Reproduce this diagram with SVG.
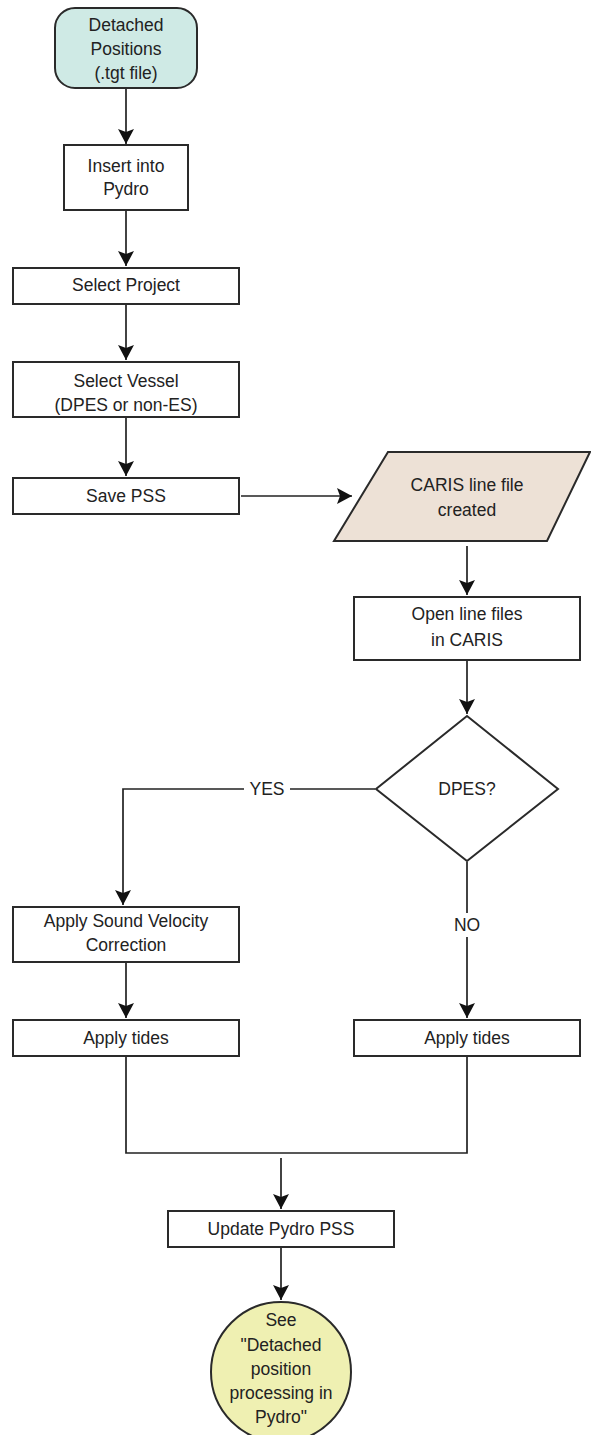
<svg xmlns="http://www.w3.org/2000/svg" width="591" height="1435" viewBox="0 0 591 1435">
<style>
.box{fill:#ffffff;stroke:#2a2a2a;stroke-width:2}
.start{fill:#cfeae5;stroke:#2a2a2a;stroke-width:2}
.io{fill:#ede1d6;stroke:#2a2a2a;stroke-width:2}
.end{fill:#eff0b2;stroke:#2a2a2a;stroke-width:2}
.t{font-family:"Liberation Sans",Arial,sans-serif;font-size:17.5px;fill:#222;text-anchor:middle;dominant-baseline:central}
.c{fill:none;stroke:#222;stroke-width:1.7}
</style>
<defs>
<marker id="ah" markerUnits="userSpaceOnUse" markerWidth="16" markerHeight="16" refX="15" refY="8" orient="auto">
<path d="M0,0 L15,8 L0,16 L3,8 Z" fill="#111"/>
</marker>
</defs>
<g id="connectors">
<line class="c" x1="126" y1="89" x2="126" y2="144" marker-end="url(#ah)"/>
<line class="c" x1="126" y1="211" x2="126" y2="266" marker-end="url(#ah)"/>
<line class="c" x1="126" y1="305" x2="126" y2="360" marker-end="url(#ah)"/>
<line class="c" x1="126" y1="418" x2="126" y2="476" marker-end="url(#ah)"/>
<line class="c" x1="241" y1="496" x2="352" y2="496" marker-end="url(#ah)"/>
<line class="c" x1="467" y1="546" x2="467" y2="595" marker-end="url(#ah)"/>
<line class="c" x1="467" y1="661" x2="467" y2="714" marker-end="url(#ah)"/>
<polyline class="c" points="375,789 290,789"/>
<polyline class="c" points="244,789 123,789 123,905" marker-end="url(#ah)"/>
<text class="t" x="267" y="789">YES</text>
<line class="c" x1="467" y1="862" x2="467" y2="913"/>
<line class="c" x1="467" y1="937" x2="467" y2="1018" marker-end="url(#ah)"/>
<text class="t" x="467" y="925">NO</text>
<line class="c" x1="126" y1="963" x2="126" y2="1018" marker-end="url(#ah)"/>
<polyline class="c" points="126,1057 126,1153 467,1153 467,1057"/>
<line class="c" x1="281" y1="1158" x2="281" y2="1209" marker-end="url(#ah)"/>
<line class="c" x1="281" y1="1248" x2="281" y2="1300" marker-end="url(#ah)"/>
</g>
<g id="n-start">
<rect class="start" x="55" y="8" width="142" height="80" rx="20" ry="20"/>
<text class="t" x="126" y="25">Detached</text>
<text class="t" x="126" y="49">Positions</text>
<text class="t" x="126" y="73">(.tgt file)</text>
</g>
<g id="n-insert">
<rect class="box" x="64" y="145" width="124" height="65"/>
<text class="t" x="126" y="166">Insert into</text>
<text class="t" x="126" y="189">Pydro</text>
</g>
<g id="n-project">
<rect class="box" x="13" y="268" width="226" height="36"/>
<text class="t" x="126" y="285">Select Project</text>
</g>
<g id="n-vessel">
<rect class="box" x="13" y="362" width="226" height="55"/>
<text class="t" x="126" y="381">Select Vessel</text>
<text class="t" x="126" y="405">(DPES or non-ES)</text>
</g>
<g id="n-savepss">
<rect class="box" x="13" y="478" width="226" height="36"/>
<text class="t" x="126" y="496">Save PSS</text>
</g>
<g id="n-caris">
<polygon class="io" points="388,452 590,452 547,541 334,541"/>
<text class="t" x="467" y="485">CARIS line file</text>
<text class="t" x="467" y="510">created</text>
</g>
<g id="n-open">
<rect class="box" x="354" y="597" width="226" height="63"/>
<text class="t" x="467" y="614">Open line files</text>
<text class="t" x="467" y="640">in CARIS</text>
</g>
<g id="n-dpes">
<polygon class="box" points="467,716 558,789 467,861 376,789"/>
<text class="t" x="467" y="789">DPES?</text>
</g>
<g id="n-svc">
<rect class="box" x="13" y="907" width="226" height="55"/>
<text class="t" x="126" y="921">Apply Sound Velocity</text>
<text class="t" x="126" y="945">Correction</text>
</g>
<g id="n-tides-left">
<rect class="box" x="13" y="1020" width="226" height="36"/>
<text class="t" x="126" y="1038">Apply tides</text>
</g>
<g id="n-tides-right">
<rect class="box" x="354" y="1020" width="226" height="36"/>
<text class="t" x="467" y="1038">Apply tides</text>
</g>
<g id="n-update">
<rect class="box" x="168" y="1211" width="226" height="36"/>
<text class="t" x="281" y="1229">Update Pydro PSS</text>
</g>
<g id="n-end">
<circle class="end" cx="281" cy="1372" r="70"/>
<text class="t" x="281" y="1320">See</text>
<text class="t" x="281" y="1345">"Detached</text>
<text class="t" x="281" y="1369">position</text>
<text class="t" x="281" y="1393">processing in</text>
<text class="t" x="281" y="1417">Pydro"</text>
</g>
</svg>
